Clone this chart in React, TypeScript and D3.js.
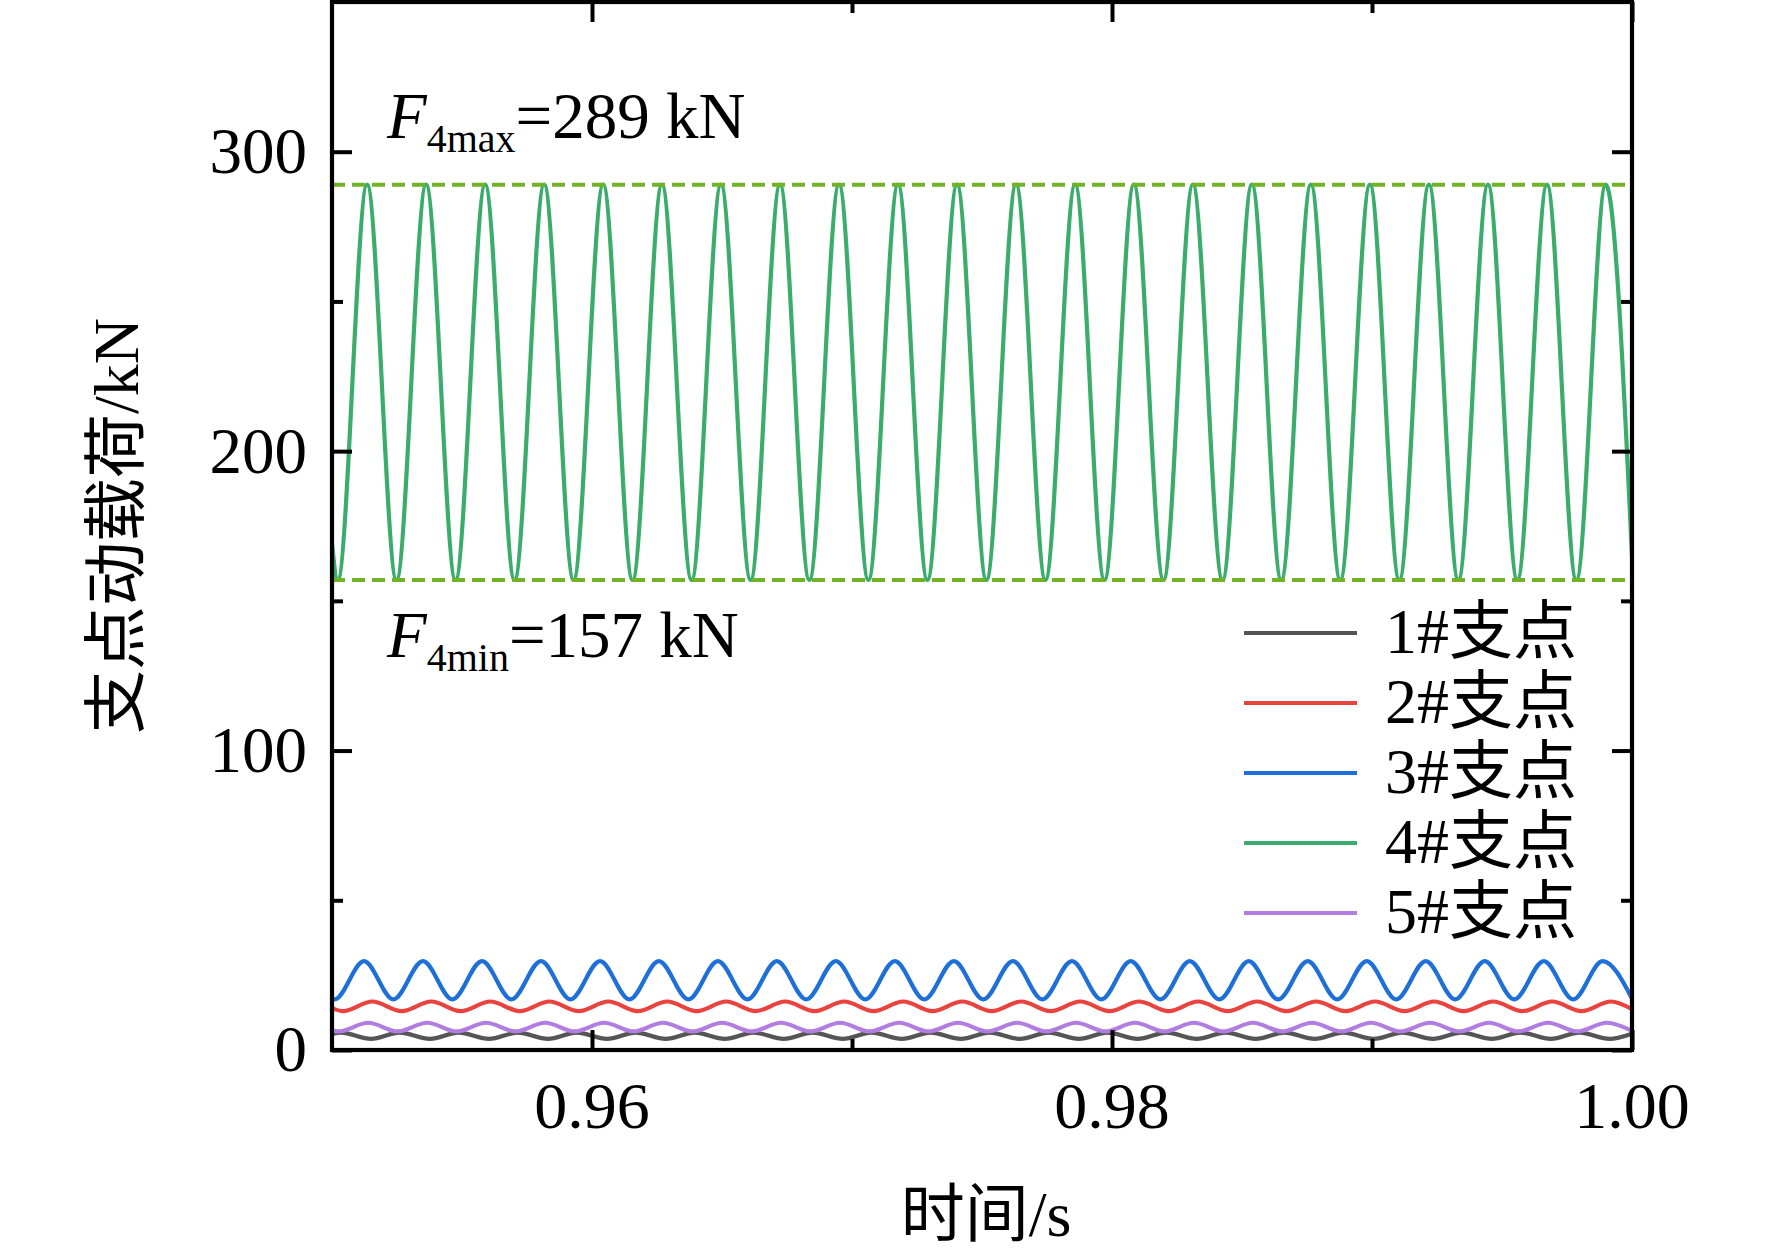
import { useEffect, useRef } from "react";
import * as d3 from "d3";

const W = 1772;
const H = 1255;
const margin = { top: 2, right: 140, bottom: 205, left: 332 };

const xDomain: [number, number] = [0.95, 1.0];
const yDomain: [number, number] = [0, 350];
const xMajor = [0.96, 0.98, 1.0];
const xMinor = [0.97, 0.99];
const yMajor = [0, 100, 200, 300];
const yMinor = [50, 150, 250];

const names = ["1#支点", "2#支点", "3#支点", "4#支点", "5#支点"];
const colors = ["#555555", "#e8433f", "#1f6fd8", "#3aad6c", "#b27de0"];

// times (s) of the crests and troughs
const s1Peaks = [0.95034, 0.9526, 0.95487, 0.95714, 0.95941, 0.96168, 0.96395, 0.96622, 0.96848, 0.97075, 0.97302, 0.97529, 0.97756, 0.97983, 0.9821, 0.98437, 0.98663, 0.9889, 0.99117, 0.99344, 0.99571, 0.99798];
const s1Troughs = [0.9515, 0.95377, 0.95604, 0.95831, 0.96058, 0.96284, 0.96511, 0.96738, 0.96965, 0.97192, 0.97419, 0.97646, 0.97873, 0.98099, 0.98326, 0.98553, 0.9878, 0.99007, 0.99234, 0.99461, 0.99688, 0.99914];
const s2Peaks = [0.95155, 0.95382, 0.95609, 0.95836, 0.96063, 0.96289, 0.96516, 0.96743, 0.9697, 0.97197, 0.97424, 0.97651, 0.97878, 0.98104, 0.98331, 0.98558, 0.98785, 0.99012, 0.99239, 0.99466, 0.99693, 0.99919];
const s2Troughs = [0.95042, 0.95268, 0.95495, 0.95722, 0.95949, 0.96176, 0.96403, 0.9663, 0.96856, 0.97083, 0.9731, 0.97537, 0.97764, 0.97991, 0.98218, 0.98445, 0.98671, 0.98898, 0.99125, 0.99352, 0.99579, 0.99806];
const s3Peaks = [0.95123, 0.9535, 0.95577, 0.95804, 0.96031, 0.96257, 0.96484, 0.96711, 0.96938, 0.97165, 0.97392, 0.97619, 0.97846, 0.98072, 0.98299, 0.98526, 0.98753, 0.9898, 0.99207, 0.99434, 0.99661, 0.99887];
const s3Troughs = [0.9501, 0.95236, 0.95463, 0.9569, 0.95917, 0.96144, 0.96371, 0.96598, 0.96824, 0.97051, 0.97278, 0.97505, 0.97732, 0.97959, 0.98186, 0.98413, 0.98639, 0.98866, 0.99093, 0.9932, 0.99547, 0.99774];
const s4Peaks = [0.95135, 0.95362, 0.95589, 0.95816, 0.96043, 0.96269, 0.96496, 0.96723, 0.9695, 0.97177, 0.97404, 0.97631, 0.97858, 0.98084, 0.98311, 0.98538, 0.98765, 0.98992, 0.99219, 0.99446, 0.99673, 0.99899];
const s4Troughs = [0.95022, 0.95248, 0.95475, 0.95702, 0.95929, 0.96156, 0.96383, 0.9661, 0.96836, 0.97063, 0.9729, 0.97517, 0.97744, 0.97971, 0.98198, 0.98425, 0.98651, 0.98878, 0.99105, 0.99332, 0.99559, 0.99786];
const s5Peaks = [0.95139, 0.95366, 0.95593, 0.9582, 0.96047, 0.96273, 0.965, 0.96727, 0.96954, 0.97181, 0.97408, 0.97635, 0.97862, 0.98088, 0.98315, 0.98542, 0.98769, 0.98996, 0.99223, 0.9945, 0.99677, 0.99903];
const s5Troughs = [0.95026, 0.95252, 0.95479, 0.95706, 0.95933, 0.9616, 0.96387, 0.96614, 0.9684, 0.97067, 0.97294, 0.97521, 0.97748, 0.97975, 0.98202, 0.98429, 0.98655, 0.98882, 0.99109, 0.99336, 0.99563, 0.9979];

// load levels (kN) of each support
const peakValues = [5.8, 16.2, 29.7, 289, 9.1];
const troughValues = [3.7, 13.0, 16.9, 157, 6.2];
const startValues = [5.4, 14.0, 17.2, 169, 6.5];
const endValues = [5.4, 13.6, 17.2, 165, 6.4];

const f4max = 289;
const f4min = 157;

const peaks = [s1Peaks, s2Peaks, s3Peaks, s4Peaks, s5Peaks];
const troughs = [s1Troughs, s2Troughs, s3Troughs, s4Troughs, s5Troughs];

const LATIN = "'Liberation Serif', 'Times New Roman', 'Noto Sans CJK SC', serif";

export default function App() {
    const ref = useRef(null);

    useEffect(() => {
        if (!ref.current) return;
        const root = d3.select(ref.current);
        root.selectAll("*").remove();

        const gWidth = W - margin.left - margin.right;
        const gHeight = H - margin.top - margin.bottom;

        const svg = root.append("g")
            .attr("transform", "translate(" + margin.left + "," + margin.top + ")");

        const x = d3.scaleLinear().domain(xDomain).range([0, gWidth]);
        const y = d3.scaleLinear().domain(yDomain).range([gHeight, 0]);

        svg.append("clipPath").attr("id", "plot-clip")
            .append("rect").attr("width", gWidth).attr("height", gHeight);

        // build each curve from its crests/troughs
        const series = names.map((name, i) => {
            const pts: [number, number][] = [[xDomain[0], startValues[i]], [xDomain[1], endValues[i]]];
            peaks[i].forEach(t => pts.push([t, peakValues[i]]));
            troughs[i].forEach(t => pts.push([t, troughValues[i]]));
            pts.sort((a, b) => a[0] - b[0]);
            return { name, color: colors[i], pts };
        });

        const line = d3.line<[number, number]>()
            .x(d => x(d[0]))
            .y(d => y(d[1]))
            .curve(d3.curveMonotoneX);

        const plot = svg.append("g").attr("clip-path", "url(#plot-clip)");
        series.forEach(s => {
            plot.append("path")
                .attr("d", line(s.pts))
                .attr("fill", "none")
                .attr("stroke", s.color)
                .attr("stroke-width", 4.2);
        });

        // max / min guide lines
        [f4max, f4min].forEach(v => {
            plot.append("line")
                .attr("x1", 0).attr("x2", gWidth)
                .attr("y1", y(v)).attr("y2", y(v))
                .attr("stroke", "#72b226")
                .attr("stroke-width", 4)
                .attr("stroke-dasharray", "13 7");
        });

        // axes with inward ticks on all four sides
        const styleAxis = (g: any) => {
            g.select(".domain").remove();
            g.selectAll(".tick line").attr("stroke", "#000").attr("stroke-width", 4);
        };
        svg.append("g").attr("transform", "translate(0," + gHeight + ")")
            .call(d3.axisBottom(x).tickValues(xMajor).tickSize(-20).tickFormat(() => ""))
            .call(styleAxis);
        svg.append("g").attr("transform", "translate(0," + gHeight + ")")
            .call(d3.axisBottom(x).tickValues(xMinor).tickSize(-11).tickFormat(() => ""))
            .call(styleAxis);
        svg.append("g")
            .call(d3.axisTop(x).tickValues(xMajor).tickSize(-20).tickFormat(() => ""))
            .call(styleAxis);
        svg.append("g")
            .call(d3.axisTop(x).tickValues(xMinor).tickSize(-11).tickFormat(() => ""))
            .call(styleAxis);
        svg.append("g")
            .call(d3.axisLeft(y).tickValues(yMajor).tickSize(-20).tickFormat(() => ""))
            .call(styleAxis);
        svg.append("g")
            .call(d3.axisLeft(y).tickValues(yMinor).tickSize(-11).tickFormat(() => ""))
            .call(styleAxis);
        svg.append("g").attr("transform", "translate(" + gWidth + ",0)")
            .call(d3.axisRight(y).tickValues(yMajor).tickSize(-20).tickFormat(() => ""))
            .call(styleAxis);
        svg.append("g").attr("transform", "translate(" + gWidth + ",0)")
            .call(d3.axisRight(y).tickValues(yMinor).tickSize(-11).tickFormat(() => ""))
            .call(styleAxis);

        svg.append("rect")
            .attr("width", gWidth).attr("height", gHeight)
            .attr("fill", "none").attr("stroke", "#000").attr("stroke-width", 4.2);

        // tick labels
        svg.append("g").selectAll("text").data(xMajor).enter().append("text")
            .attr("x", d => x(d))
            .attr("y", gHeight + 78)
            .attr("text-anchor", "middle")
            .attr("font-family", LATIN)
            .attr("font-size", 66)
            .text(d => d3.format(".2f")(d));
        svg.append("g").selectAll("text").data(yMajor).enter().append("text")
            .attr("x", -25)
            .attr("y", d => y(d))
            .attr("dy", "0.33em")
            .attr("text-anchor", "end")
            .attr("font-family", LATIN)
            .attr("font-size", 65)
            .text(d => String(d));

        // axis titles
        svg.append("text")
            .attr("x", gWidth / 2 + 4)
            .attr("y", gHeight + 186)
            .attr("text-anchor", "middle")
            .attr("font-family", LATIN)
            .attr("font-size", 64)
            .text("时间/s");
        svg.append("text")
            .attr("transform", "translate(" + (-194) + "," + y(175) + ") rotate(-90)")
            .attr("text-anchor", "middle")
            .attr("font-family", LATIN)
            .attr("font-size", 64)
            .text("支点动载荷/kN");

        // F4max / F4min notes
        const note = (v: number, dy: number, sub: string) => {
            const t = svg.append("text")
                .attr("x", 55)
                .attr("y", y(v) + dy)
                .attr("font-family", LATIN)
                .attr("font-size", 65);
            t.append("tspan").attr("font-style", "italic").text("F");
            t.append("tspan").attr("font-size", 40).attr("dy", 14).text(sub);
            t.append("tspan").attr("dy", -14).text("=" + v + " kN");
        };
        note(f4max, -47, "4max");
        note(f4min, 77, "4min");

        // legend
        const legend = svg.append("g").attr("transform", "translate(912,631)");
        series.forEach((s, i) => {
            const row = legend.append("g").attr("transform", "translate(0," + i * 70 + ")");
            row.append("line")
                .attr("x1", 0).attr("x2", 113)
                .attr("stroke", s.color).attr("stroke-width", 4.2);
            row.append("text")
                .attr("x", 141).attr("y", 20)
                .attr("font-family", LATIN)
                .attr("font-size", 64)
                .text(s.name);
        });
    }, []);

    return (
        <svg
            ref={ref}
            width={W}
            height={H}
            style={{ position: "absolute", left: 0, top: 0, background: "#fff" }} />
    );
}
